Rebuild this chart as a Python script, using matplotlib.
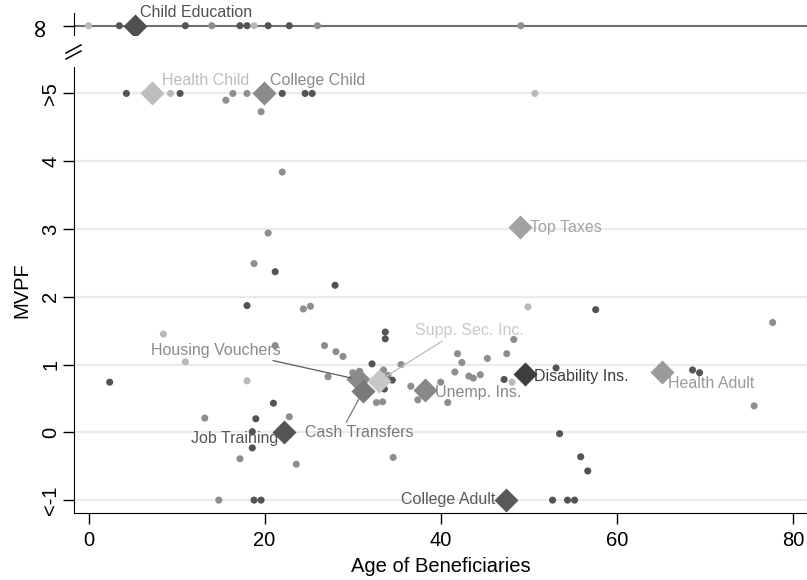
import matplotlib
matplotlib.use("Agg")
import matplotlib.pyplot as plt
import numpy as np

plt.rcParams['font.family'] = ['Liberation Sans', 'DejaVu Sans']

# individual policies: age, MVPF (capped at 5 and -1), shade group
dot_age = [4.3, 9.3, 10.4, 15.6, 16.4, 18.0, 19.6, 22.0, 24.6, 25.4, 50.7,
           22.0, 20.4, 18.8, 21.2, 28.0, 18.0, 24.4, 25.2, 8.5, 33.7, 33.7,
           21.2, 26.8, 28.1, 28.9, 11.0, 32.2, 35.5, 2.4, 18.0, 27.2, 30.0,
           30.8, 33.5, 34.0, 34.5, 33.6, 32.7, 33.4, 36.6, 37.4, 21.0, 13.2,
           19.0, 22.8, 18.6, 18.6, 17.2, 23.6, 34.6, 49.9, 57.6, 77.7, 48.3,
           41.9, 47.5, 45.3, 42.4, 41.6, 43.2, 43.7, 44.5, 47.2, 48.1, 53.1,
           40.0, 40.8, 68.6, 69.4, 75.6, 53.5, 55.9, 56.7, 49.9,
           14.8, 18.8, 19.6, 52.7, 54.4, 55.2]
dot_mvpf = [5, 5, 5, 4.9, 5, 5, 4.73, 5, 5, 5, 5,
            3.84, 2.94, 2.49, 2.37, 2.17, 1.87, 1.82, 1.86, 1.45, 1.48, 1.38,
            1.28, 1.28, 1.19, 1.12, 1.04, 1.01, 1.00, 0.74, 0.76, 0.82, 0.88,
            0.90, 0.92, 0.84, 0.77, 0.64, 0.44, 0.45, 0.68, 0.48, 0.43, 0.21,
            0.20, 0.23, 0.01, -0.23, -0.39, -0.47, -0.37, 1.85, 1.81, 1.62, 1.37,
            1.16, 1.16, 1.09, 1.03, 0.89, 0.83, 0.80, 0.85, 0.78, 0.74, 0.95,
            0.74, 0.44, 0.92, 0.88, 0.39, -0.02, -0.36, -0.57, 0.92,
            -1, -1, -1, -1, -1, -1]
dot_group = [0, 2, 0, 1, 1, 1, 1, 0, 0, 0, 2,
             1, 1, 1, 0, 0, 0, 1, 1, 2, 0, 0,
             1, 1, 1, 1, 2, 0, 1, 0, 2, 1, 1,
             1, 1, 1, 0, 0, 1, 1, 1, 1, 0, 1,
             0, 1, 0, 0, 1, 1, 1, 2, 0, 1, 1,
             1, 1, 1, 1, 1, 1, 1, 1, 0, 2, 0,
             1, 1, 0, 0, 1, 0, 0, 0, 0,
             1, 0, 0, 0, 0, 0]

# policies with infinite MVPF
inf_age = [0.0, 3.5, 11.0, 14.0, 17.2, 18.0, 18.8, 20.4, 22.8, 26.0, 49.1]
inf_group = [2, 0, 0, 1, 0, 0, 2, 0, 0, 1, 1]

# category averages
cat_names = ['Child Education', 'Health Child', 'College Child', 'Top Taxes',
             'Housing Vouchers', 'Cash Transfers', 'Supp. Sec. Inc.',
             'Job Training', 'Unemp. Ins.', 'Disability Ins.', 'Health Adult',
             'College Adult']
cat_age = [5.3, 7.2, 19.9, 49.0, 30.6, 31.2, 33.0, 22.2, 38.2, 49.6, 65.1, 47.4]
cat_mvpf = [np.inf, 5, 5, 3.03, 0.78, 0.61, 0.76, 0.01, 0.62, 0.86, 0.89, -1]

yticks = [-1, 0, 1, 2, 3, 4, 5]
yticklabels = ['<-1', '0', '1', '2', '3', '4', '>5']
xticks = [0, 20, 40, 60, 80]

group_colors = ['#545454', '#8e8e8e', '#b9b9b9']
cat_colors = ['#505050', '#bdbdbd', '#8a8a8a', '#a2a2a2', '#8a8a8a', '#7a7a7a',
              '#c8c8c8', '#555555', '#888888', '#3e3e3e', '#9a9a9a', '#595959']
# label offsets in points, alignment, leader line colour
cat_text = {
    'Child Education': ((3.5, 9.5), 'left', None, None),
    'Health Child': ((7.0, 9.0), 'left', None, None),
    'College Child': ((4.5, 9.0), 'left', None, None),
    'Top Taxes': ((7.0, -0.5), 'left', None, None),
    'Housing Vouchers': ((-102, 21), 'center', '#5a5a5a', 0.58),
    'Cash Transfers': ((-3, -30), 'center', '#777777', 0.33),
    'Supp. Sec. Inc.': ((65, 36), 'center', '#bbbbbb', 0.4),
    'Job Training': ((-4, -5), 'right', None, None),
    'Unemp. Ins.': ((7, -1.5), 'left', None, None),
    'Disability Ins.': ((6.5, -1.5), 'left', None, None),
    'Health Adult': ((4.5, -8.5), 'left', None, None),
    'College Adult': ((-7.5, 0.5), 'right', None, None),
}

fig = plt.figure(figsize=(8.07, 5.80), dpi=100)
W, H = 807.0, 580.0
ax_top = fig.add_axes([74 / W, 1 - 35 / H, 1 - 74 / W, 22 / H])
ax = fig.add_axes([74 / W, 1 - 513 / H, 1 - 74 / W, 446 / H])

xlim = (-1.65, 81.6)
dot_size = 26
dia_size = 150

# main panel
ax.set_xlim(*xlim)
ax.set_ylim(-1.19, 5.39)
for yt in yticks:
    ax.axhline(yt, color='#ebebeb', lw=1.6, zorder=0)
ax.scatter(dot_age, dot_mvpf, s=dot_size, c=[group_colors[g] for g in dot_group],
           linewidths=0, zorder=2)

# top panel (infinite)
ax_top.set_xlim(*xlim)
ax_top.set_ylim(-9.3, 12.7)
ax_top.axhline(0, color='#707070', lw=1.5, zorder=0)
ax_top.scatter(inf_age, np.zeros(len(inf_age)), s=dot_size,
               c=[group_colors[g] for g in inf_group], linewidths=0, zorder=2)

for name, cx, cy, col in zip(cat_names, cat_age, cat_mvpf, cat_colors):
    target = ax_top if np.isinf(cy) else ax
    yy = 0 if np.isinf(cy) else cy
    target.scatter([cx], [yy], s=dia_size, marker='D', c=col, linewidths=0, zorder=4)
    (ox, oy), ha, lcol, rel = cat_text[name]
    kw = {}
    if lcol is not None:
        kw['arrowprops'] = dict(arrowstyle='-', color=lcol, lw=0.9,
                                shrinkA=0, shrinkB=5, relpos=(rel, 0.5))
    target.annotate(name, xy=(cx, yy), xytext=(ox, oy), textcoords='offset points',
                    ha=ha, va='center', fontsize=11.5, color=col, zorder=5,
                    annotation_clip=False, **kw)

for a in (ax, ax_top):
    a.spines['top'].set_visible(False)
    a.spines['right'].set_visible(False)
    a.tick_params(axis='y', direction='out', length=8, width=1, labelsize=14.5,
                  pad=2)

ax_top.spines['bottom'].set_visible(False)
ax_top.set_xticks([])
ax_top.set_yticks([0])
ax_top.set_yticklabels(['\u221e'], rotation=90, va='center', fontsize=19,
                       family='DejaVu Sans')
ax_top.tick_params(axis='y', pad=8)

ax.set_yticks(yticks)
ax.set_yticklabels(yticklabels, rotation=90, va='center')
ax.set_xticks(xticks)
ax.tick_params(axis='x', direction='out', length=8, width=1, labelsize=14.5, pad=5)
ax.set_xlabel('Age of Beneficiaries', fontsize=14.5, labelpad=5)
ax.set_ylabel('MVPF', fontsize=14.5, labelpad=7)

# axis break marks
for dy in (0, 6):
    fig.add_artist(plt.Line2D([66 / W, 81 / W], [1 - (59 - dy) / H, 1 - (51 - dy) / H],
                              color='black', lw=1.1))

fig.savefig('out.png', dpi=100)
